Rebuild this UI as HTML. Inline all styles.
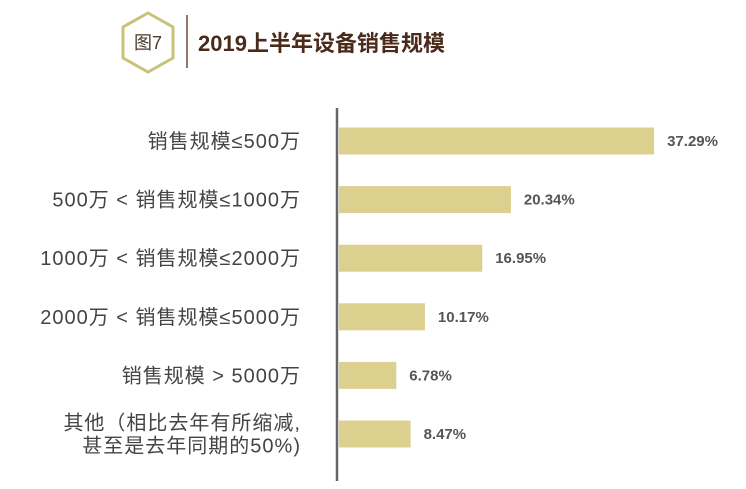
<!DOCTYPE html>
<html><head><meta charset="utf-8"><style>
body{margin:0;background:#fff;width:746px;height:484px;overflow:hidden;font-family:"Liberation Sans","Noto Sans CJK SC",sans-serif}
</style></head><body>
<svg id="c" width="746" height="484">
<polygon points="148,13 173,27 173,58 148,72 123,58 123,27" fill="#fff" stroke="#c9c27a" stroke-width="3"/>
<text x="148" y="49" text-anchor="middle" font-size="18" fill="#4a3a2a" font-family="Liberation Sans,Noto Sans CJK SC,sans-serif">图7</text>
<line x1="187" y1="15" x2="187" y2="68" stroke="#6b4a3a" stroke-width="1.5"/>
<text x="198" y="51" font-size="22" font-weight="bold" fill="#4a2a1a" font-family="Liberation Sans,Noto Sans CJK SC,sans-serif">2019上半年设备销售规模</text>
<g id="bars"></g>
<line x1="337" y1="108" x2="337" y2="481" stroke="#666" stroke-width="2.5"/>
</svg>
<script>
const categories=[["销售规模≤500万"],["500万 < 销售规模≤1000万"],["1000万 < 销售规模≤2000万"],["2000万 < 销售规模≤5000万"],["销售规模 > 5000万"],["其他（相比去年有所缩减,","甚至是去年同期的50%)"]];
const values=[37.29,20.34,16.95,10.17,6.78,8.47];
const valueLabels=["37.29%","20.34%","16.95%","10.17%","6.78%","8.47%"];
const x0=339,scale=8.45,y0=141,step=58.6,bh=27;
const xs=v=>x0+v*scale, ys=i=>y0+i*step;
const g=document.getElementById('bars'),NS="http://www.w3.org/2000/svg";
values.forEach((v,i)=>{
 const r=document.createElementNS(NS,'rect');
 
 
 r.setAttribute('x',x0);r.setAttribute('y',ys(i)-bh/2);r.setAttribute('width',xs(v)-x0);r.setAttribute('height',bh);r.setAttribute('fill','#dcd08e');g.appendChild(r);
 const t=document.createElementNS(NS,'text');
 
 
 t.setAttribute('x',xs(v)+13);t.setAttribute('y',ys(i)+5);t.setAttribute('font-size','15');t.setAttribute('font-weight','bold');t.setAttribute('fill','#555');t.textContent=valueLabels[i];g.appendChild(t);
 const lines=categories[i];
 lines.forEach((s,k)=>{
  const c=document.createElementNS(NS,'text');
  
  
  const yy=ys(i)+7+(k-(lines.length-1)/2)*23;
  c.setAttribute('x',301);c.setAttribute('y',yy);c.setAttribute('text-anchor','end');c.setAttribute('font-size','20');c.setAttribute('letter-spacing','1');c.setAttribute('fill','#444');c.textContent=s;g.appendChild(c);
 });
});
</script>
</body></html>
